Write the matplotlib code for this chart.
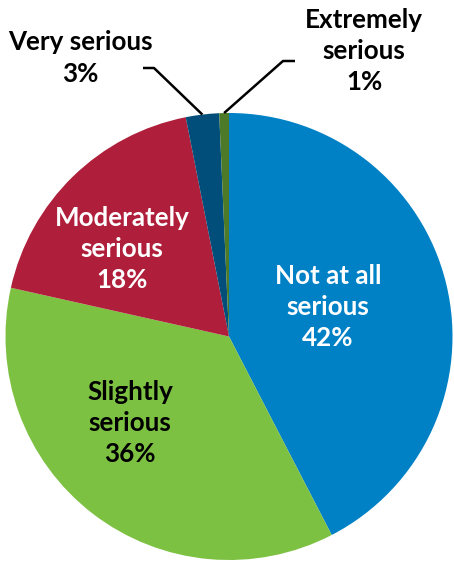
import numpy as np
import matplotlib
matplotlib.use("Agg")
import matplotlib.pyplot as plt

categories = ["Not at all\nserious", "Slightly\nserious", "Moderately\nserious", "Very serious", "Extremely\nserious"]
values = [42.4, 36.1, 18.4, 2.4, 0.7]
pct_labels = ["42%", "36%", "18%", "3%", "1%"]
colors = ["#0081C6", "#7DC142", "#AF1E3A", "#004E79", "#4C7A29"]

W, H = 454, 561
fig = plt.figure(figsize=(W / 100, H / 100), dpi=100)
ax = fig.add_axes([0, 0, 1, 1])
cx, cy, R = 229.0, 336.5, 223.5

def px(x, y):
    return ((x - cx) / R, (cy - y) / R)

ax.axis("off")

wedges, _ = ax.pie(values, colors=colors, startangle=90, counterclock=False,
                   radius=1.0, center=(0, 0), wedgeprops=dict(linewidth=0))
ax.set_aspect("equal")
ax.set_xlim(-cx / R, (W - cx) / R)
ax.set_ylim((cy - H) / R, cy / R)

font = dict(family=["Lato", "DejaVu Sans"], fontweight="bold", fontsize=18.7,
            ha="center", va="center", linespacing=1.36)

# inside labels
inside_pos = [(328, 307), (130, 423), (122, 249)]
for i, (x, y) in enumerate(inside_pos):
    tcol = "white" if i in (0, 2) else "black"
    ax.text(*px(x, y), categories[i] + "\n" + pct_labels[i], color=tcol, **font)

# outside labels with leader lines
out_pos = [(80, 58), (364, 51)]
elbows = [((143, 68), (154, 68)), ((295, 61), (283, 61))]
for k, idx in enumerate([3, 4]):
    x, y = out_pos[k]
    ax.text(*px(x, y), categories[idx] + "\n" + pct_labels[idx], color="black", **font)
    w = wedges[idx]
    mid = np.deg2rad((w.theta1 + w.theta2) / 2)
    ex, ey = np.cos(mid), np.sin(mid)
    (a, b), (c, d) = elbows[k]
    p1 = px(a, b)
    p2 = px(c, d)
    ax.plot([p1[0], p2[0], ex], [p1[1], p2[1], ey], color="black", lw=1.8,
            solid_capstyle="butt", zorder=5)

fig.savefig("out.png", dpi=100)
